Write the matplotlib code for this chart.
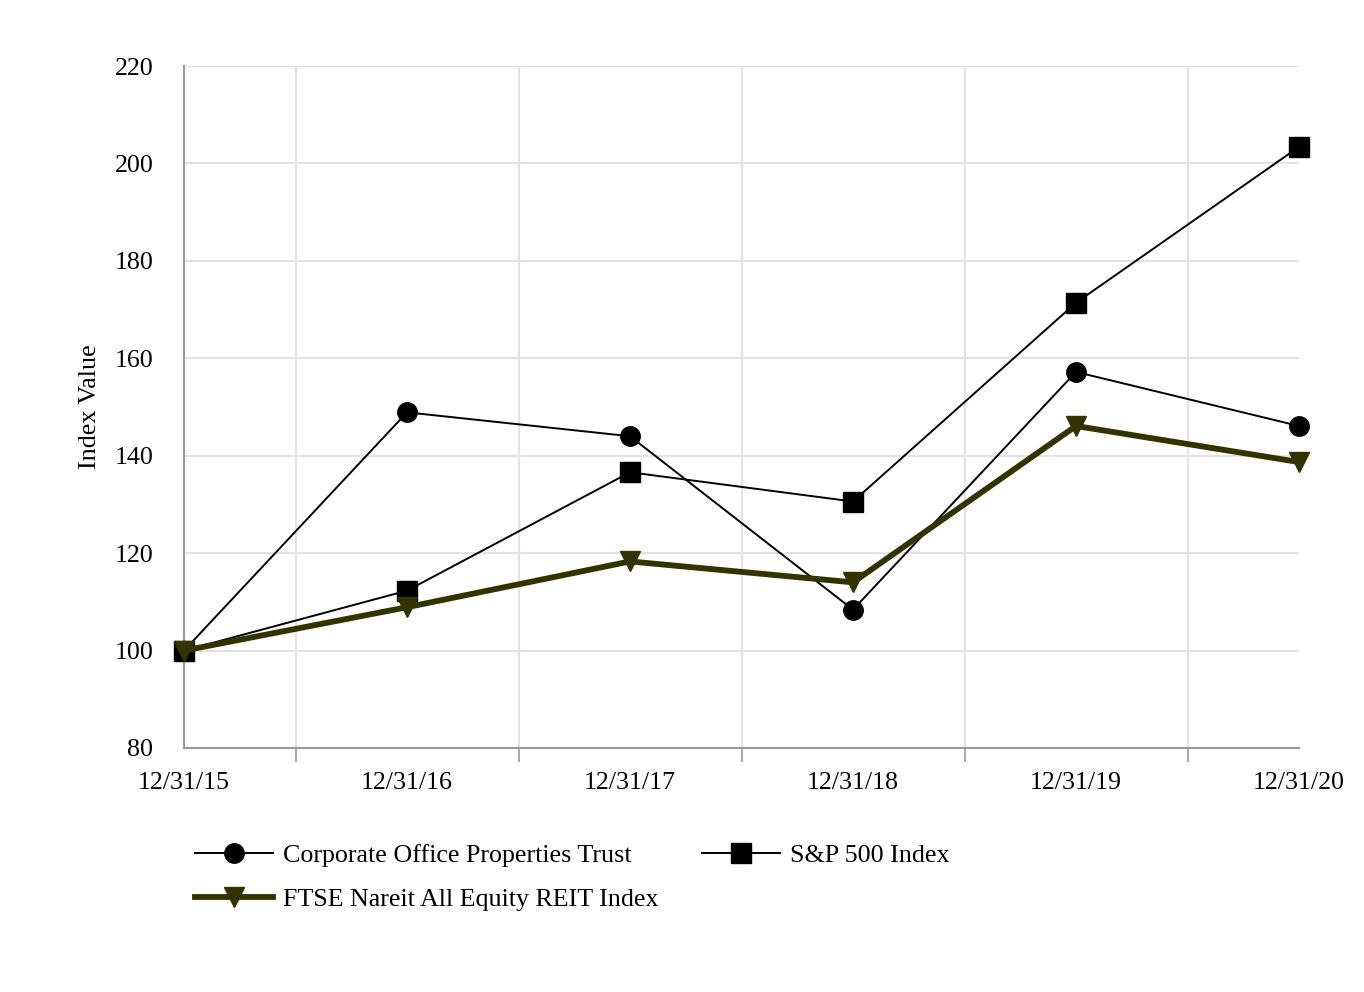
import matplotlib
matplotlib.use('Agg')
import matplotlib.pyplot as plt
from matplotlib.ticker import MultipleLocator

dates = ['12/31/15', '12/31/16', '12/31/17', '12/31/18', '12/31/19', '12/31/20']
copt = [100.0, 148.9, 144.0, 108.4, 157.2, 146.1]
sp500 = [100.0, 112.3, 136.6, 130.6, 171.4, 203.4]
ftse = [100.0, 108.9, 118.3, 114.0, 146.1, 138.7]

plt.rcParams['font.family'] = ['Liberation Serif', 'DejaVu Serif']
plt.rcParams['font.size'] = 18.7

fig = plt.figure(figsize=(13.64, 9.92), dpi=100)
ax = fig.add_axes([184 / 1364, 1 - 748 / 992, 1115 / 1364, 682 / 992])

x = list(range(len(dates)))
l1, = ax.plot(x, copt, color='black', lw=1.4, marker='o', ms=14, clip_on=False, zorder=3,
              label='Corporate Office Properties Trust')
l2, = ax.plot(x, sp500, color='black', lw=1.4, marker='s', ms=14, clip_on=False, zorder=3,
              label='S&P 500 Index')
l3, = ax.plot(x, ftse, color='#333300', lw=4.2, marker='v', ms=14, clip_on=False, zorder=4,
              label='FTSE Nareit All Equity REIT Index')

ax.set_xlim(0, 5)
ax.set_ylim(80, 220)
ax.yaxis.set_major_locator(MultipleLocator(20))
ax.set_xticks(x)
ax.set_xticklabels(dates)
ax.set_xticks([i + 0.5 for i in range(5)], minor=True)

ax.tick_params(axis='x', which='major', length=0, pad=17)
ax.tick_params(axis='x', which='minor', length=10, width=1.2, color='#999999', direction='out')
ax.tick_params(axis='y', length=0, pad=22)

ax.grid(axis='y', which='major', color='#e3e3e3', lw=1.5)
ax.grid(axis='x', which='minor', color='#e3e3e3', lw=1.5)
ax.set_axisbelow(True)

for s in ['top', 'right']:
    ax.spines[s].set_visible(False)
for s in ['left', 'bottom']:
    ax.spines[s].set_color('#999999')
    ax.spines[s].set_linewidth(1.5)

ax.set_ylabel('Index Value', labelpad=10)

fig.legend(handles=[l1, l3, l2], ncol=2, frameon=False,
           loc='upper left', bbox_to_anchor=(195 / 1364, 1 - 844 / 992),
           borderpad=0, borderaxespad=0, handlelength=3.0, handletextpad=0.4,
           columnspacing=1.65, labelspacing=0.8)

fig.savefig('out.png', dpi=100)
